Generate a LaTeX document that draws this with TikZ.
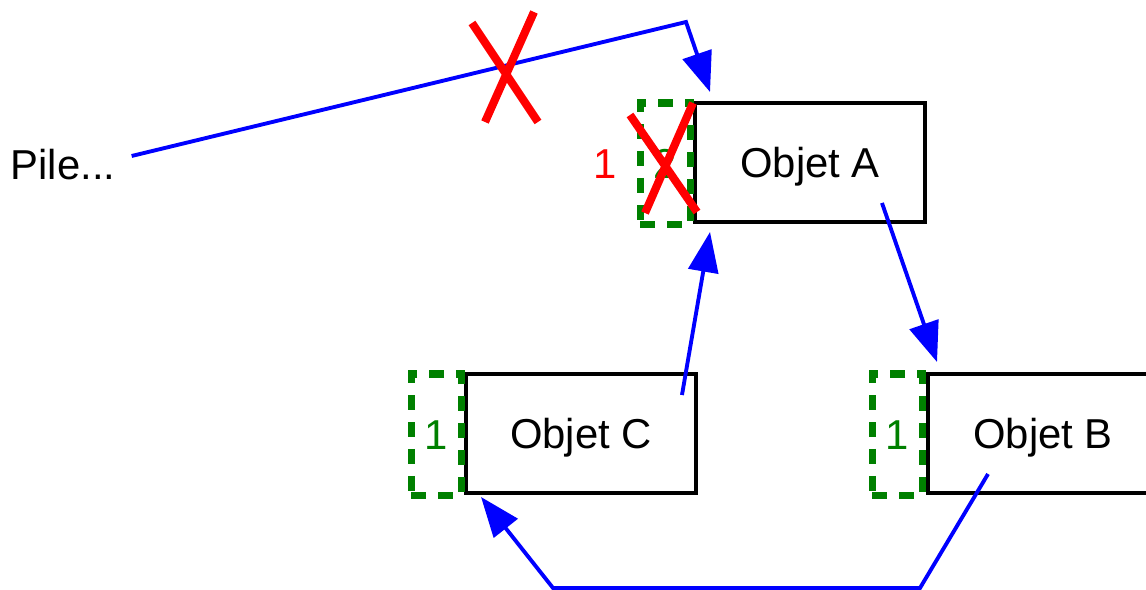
\documentclass[tikz,border=0pt]{standalone}
\usepackage{fontspec}
\setmainfont{Liberation Sans}
\usetikzlibrary{arrows.meta,calc,positioning}

\begin{document}
\begin{tikzpicture}[x=0.02cm,y=-0.02cm,
    every node/.style={font=\fontsize{23.8}{28}\selectfont},
    obj/.style = {draw, line width=2.2pt, minimum width=4.6cm, minimum height=2.38cm, text depth=0pt, outer sep=0pt},
    cnt/.style = {draw=green!50!black, dash pattern=on 0.3cm off 0.24cm, line width=4pt,
                  minimum width=1cm, minimum height=2.44cm, text=green!50!black, anchor=north east, outer sep=0pt},
    ptr/.style = {draw=blue, line width=2.2pt, -{Triangle[length=0.8cm,width=0.6cm]}},
    croix/.style = {draw=red, line width=4.6pt}]
      \useasboundingbox (0,0) rectangle (1146,590);
      \node[inner xsep=0.32cm](pile) at (63,165){Pile...};
      \node[obj](a) at (810,162.5){Objet A};
      \node[obj](c) at (581,433.5){Objet C};
      \node[obj](b) at (1043,433.5){Objet B};
      \node[cnt](na) at ($(a.north west)+(-5,0)$){2};
      \node[cnt](nc) at ($(c.north west)+(-5,0)$){1};
      \node[cnt](nb) at ($(b.north west)+(-6,0)$){1};
      \node[text=red, inner sep=0pt, left=0.45cm of na](r1){1};

      \coordinate (k1) at (686,22);
      \coordinate (k2) at (920,588);
      \coordinate (k3) at (553,588);

      \path[ptr] ($(pile.east)+(0,-9)$) -- (k1) -- ($(a.north west)+(15,-11)$);
      \path[ptr] ($(a.south east)+(-43,-19)$) -- ($(b.north west)+(9,-12)$);
      \path[ptr] ($(c.north east)+(-14,21)$) -- ($(a.south west)+(15,10)$);
      \path[ptr] ($(b.south west)+(60,-19)$) -- (k2) -- (k3) -- ($(c.south west)+(15,4)$);

      % croix
      \draw[croix] (472,23) -- (538,122) (534,12) -- (485,122);
      \draw[croix] (630,115) -- (697,212) (693,103) -- (645,213);
    \end{tikzpicture}
\end{document}
